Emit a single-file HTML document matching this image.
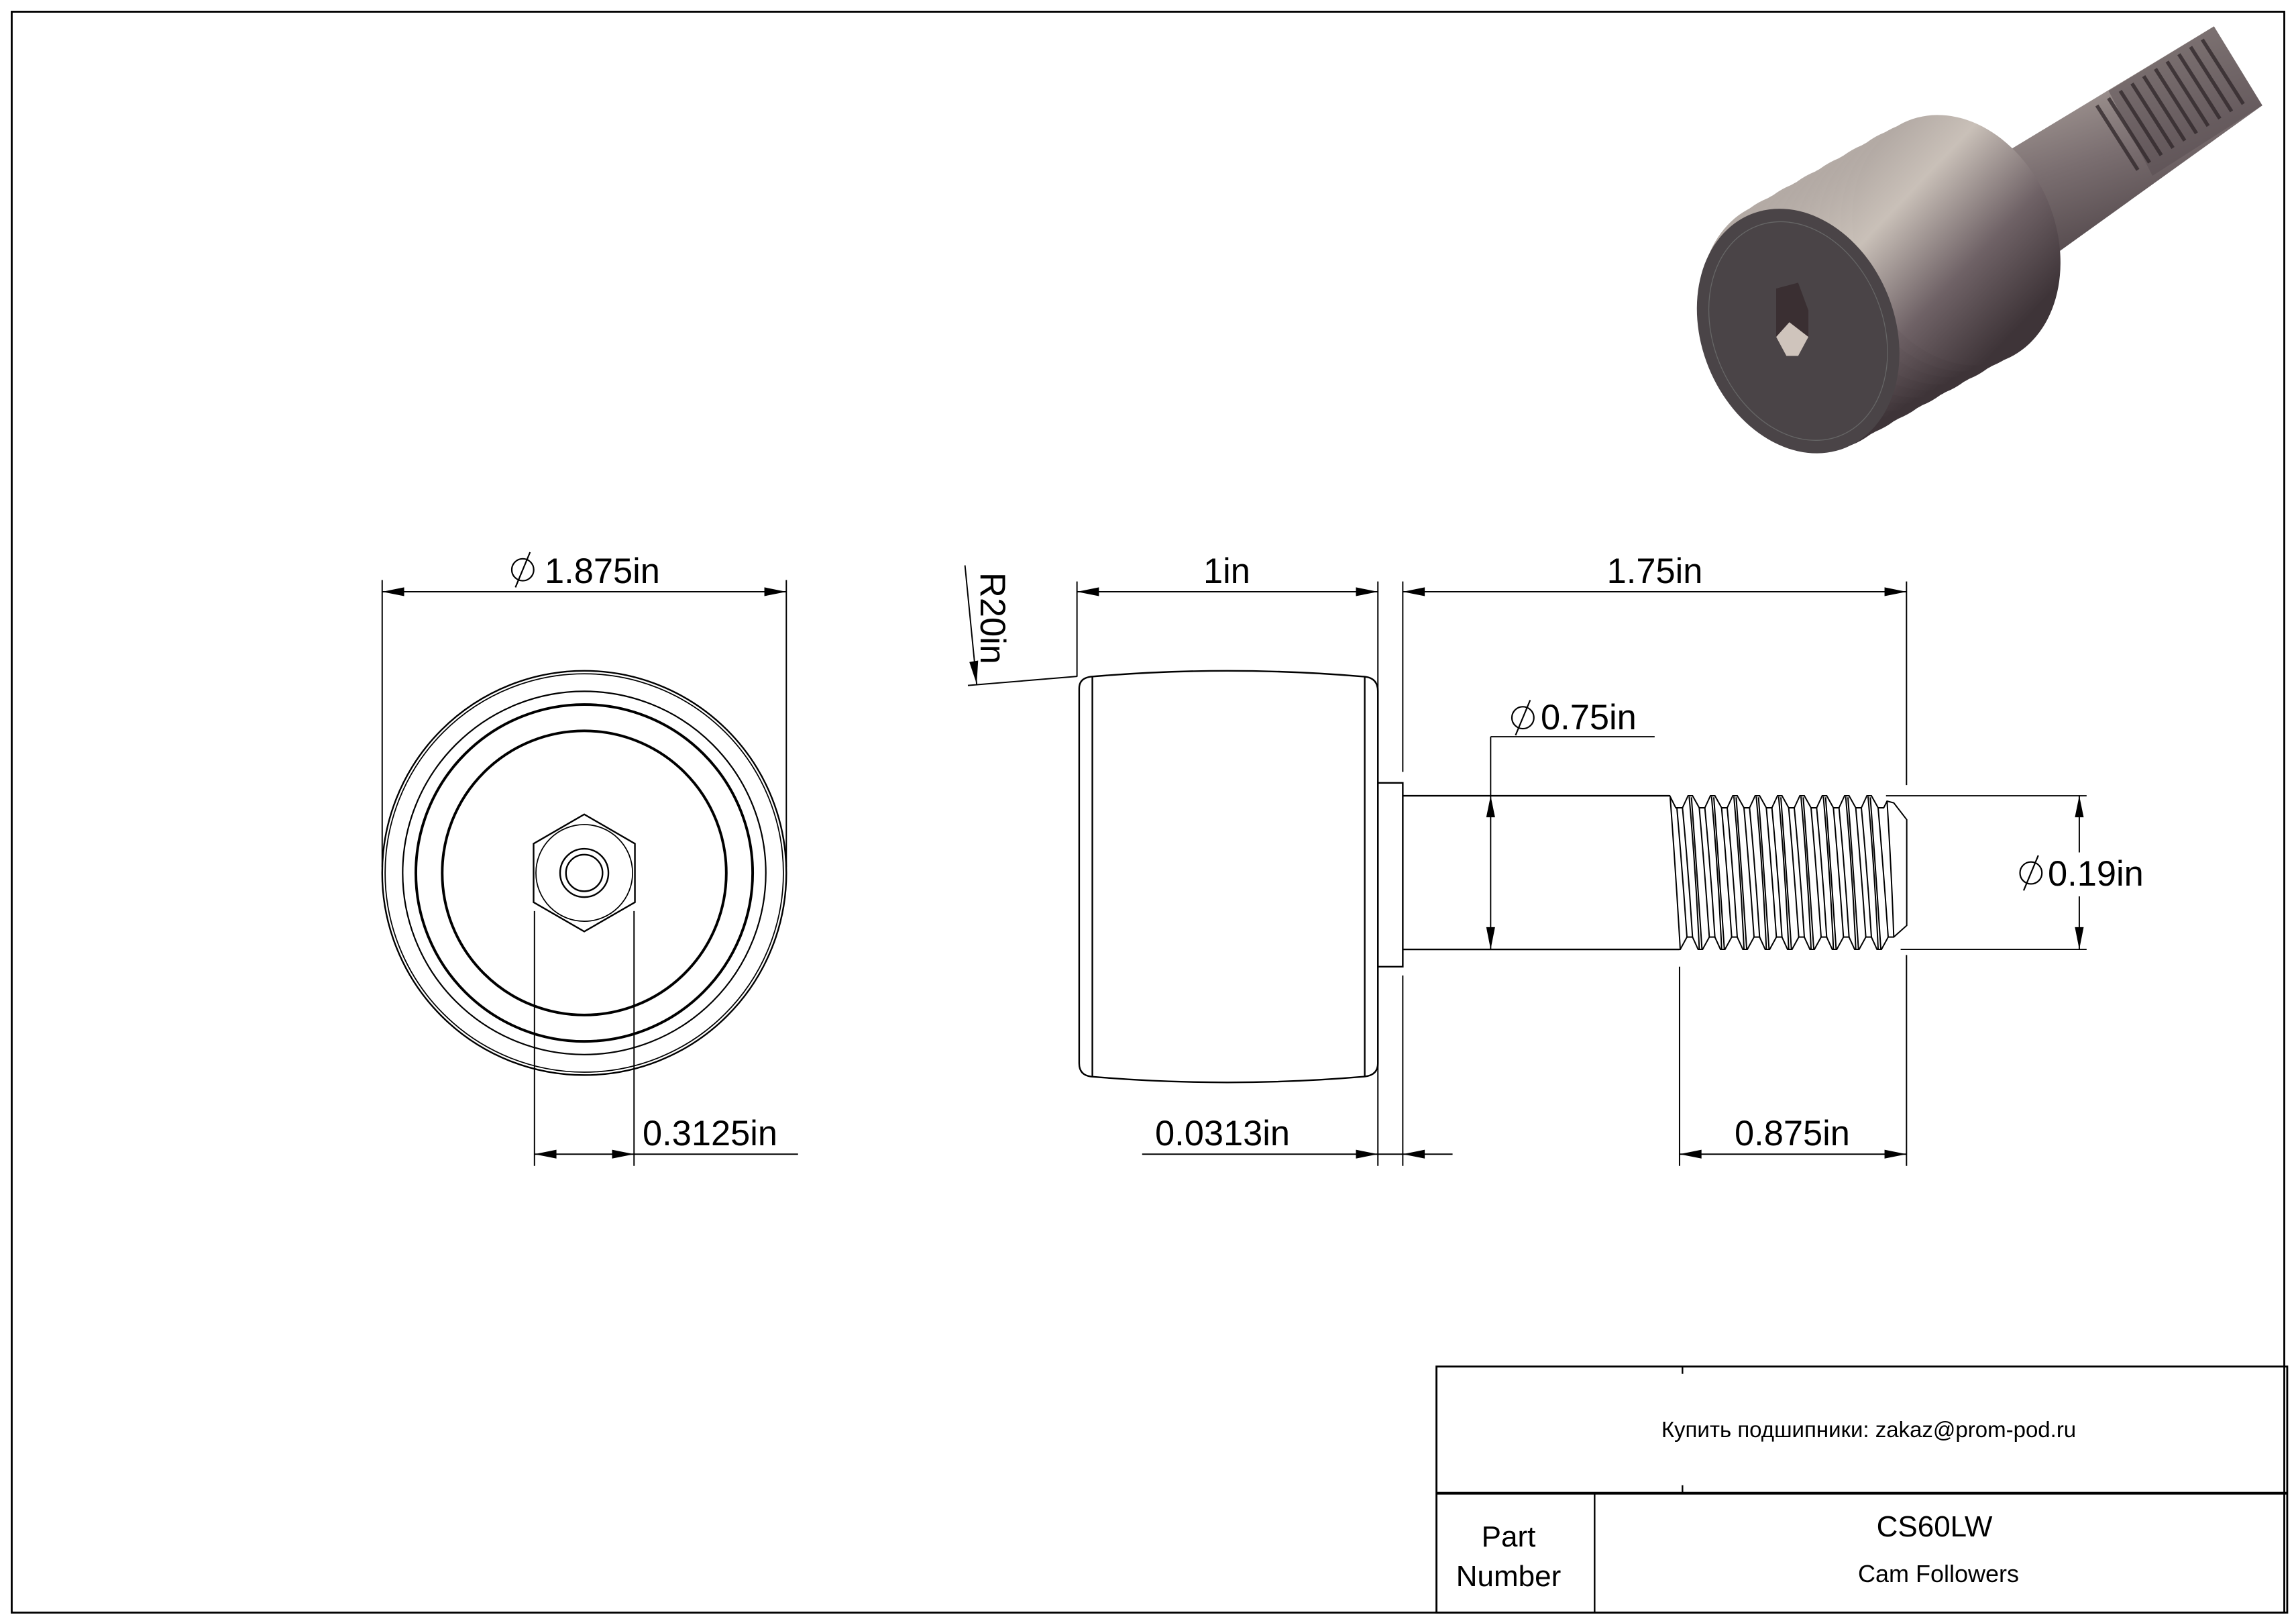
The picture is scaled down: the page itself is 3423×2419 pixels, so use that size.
<!DOCTYPE html>
<html><head><meta charset="utf-8"><style>
html,body{margin:0;padding:0;background:#fff}
svg{display:block}
text{font-family:"Liberation Sans","Noto Sans CJK SC",sans-serif;fill:#000}
</style></head><body>
<svg width="3423" height="2419" viewBox="0 0 3423 2419" xmlns="http://www.w3.org/2000/svg">
<defs>
<linearGradient id="body" x1="0" y1="0" x2="0.35" y2="1">
<stop offset="0" stop-color="#a59c98"/><stop offset="0.35" stop-color="#c9c0b8"/><stop offset="0.7" stop-color="#6f6266"/><stop offset="1" stop-color="#3e3438"/>
</linearGradient>
<linearGradient id="shaft" x1="0.3" y1="0" x2="0.7" y2="1">
<stop offset="0" stop-color="#c0b6ae"/><stop offset="0.5" stop-color="#7a6e70"/><stop offset="1" stop-color="#3c3236"/>
</linearGradient>
</defs>
<g transform="scale(2.18304)" fill="none" stroke="#000" stroke-width="1.1">
<rect x="8" y="8" width="1552" height="1093" stroke-width="1.3"/>
<rect x="981" y="933" width="581" height="168" stroke-width="1.3"/>
<line x1="981" y1="1019.5" x2="1562" y2="1019.5" stroke-width="1.8"/>
<line x1="1089" y1="1019" x2="1089" y2="1101"/>
<line x1="1149" y1="933" x2="1149" y2="938"/>
<line x1="1149" y1="1014" x2="1149" y2="1019"/>

<!-- 3D render -->
<g stroke="none">
<polygon points="1335,125 1512,18 1545,72 1378,192" fill="url(#shaft)"/>
<polygon points="1440,62 1512,18 1545,72 1470,120" fill="#5a4e52" opacity="0.55"/>
<g stroke="#2e2528" stroke-width="2.5" opacity="0.75">
<line x1="1432" y1="72" x2="1460" y2="116"/>
<line x1="1440" y1="67" x2="1468" y2="111"/>
<line x1="1448" y1="62" x2="1476" y2="106"/>
<line x1="1456" y1="57" x2="1484" y2="101"/>
<line x1="1464" y1="52" x2="1492" y2="96"/>
<line x1="1472" y1="47" x2="1500" y2="91"/>
<line x1="1480" y1="42" x2="1508" y2="86"/>
<line x1="1488" y1="37" x2="1516" y2="81"/>
<line x1="1496" y1="32" x2="1524" y2="76"/>
<line x1="1504" y1="27" x2="1532" y2="71"/>
</g>
<g fill="url(#body)">
<ellipse cx="1232" cy="222" rx="68" ry="88" transform="rotate(-22 1232 222)"/>
<ellipse cx="1240" cy="217" rx="68" ry="88" transform="rotate(-22 1240 217)"/>
<ellipse cx="1248" cy="213" rx="68" ry="88" transform="rotate(-22 1248 213)"/>
<ellipse cx="1256" cy="208" rx="68" ry="88" transform="rotate(-22 1256 208)"/>
<ellipse cx="1264" cy="204" rx="68" ry="88" transform="rotate(-22 1264 204)"/>
<ellipse cx="1272" cy="199" rx="68" ry="88" transform="rotate(-22 1272 199)"/>
<ellipse cx="1280" cy="195" rx="68" ry="88" transform="rotate(-22 1280 195)"/>
<ellipse cx="1288" cy="190" rx="68" ry="88" transform="rotate(-22 1288 190)"/>
<ellipse cx="1296" cy="186" rx="68" ry="88" transform="rotate(-22 1296 186)"/>
<ellipse cx="1304" cy="181" rx="68" ry="88" transform="rotate(-22 1304 181)"/>
<ellipse cx="1312" cy="177" rx="68" ry="88" transform="rotate(-22 1312 177)"/>
<ellipse cx="1320" cy="172" rx="68" ry="88" transform="rotate(-22 1320 172)"/>
<ellipse cx="1328" cy="168" rx="68" ry="88" transform="rotate(-22 1328 168)"/>
<ellipse cx="1336" cy="164" rx="68" ry="88" transform="rotate(-22 1336 164)"/>
</g>
<ellipse cx="1228" cy="226" rx="66" ry="86" transform="rotate(-22 1228 226)" fill="#4a4447"/>
<ellipse cx="1228" cy="226" rx="58" ry="77" transform="rotate(-22 1228 226)" fill="none" stroke="#666" stroke-width="0.6"/>
<polygon points="1213,197 1228,193 1235,212 1235,230 1220,243 1213,230" fill="#3a2f32"/>
<polygon points="1213,230 1222,220 1235,230 1228,243 1220,243" fill="#cfc4bc"/>
</g>

<!-- front view -->
<circle cx="399" cy="596" r="138"/>
<circle cx="399" cy="596" r="136" stroke-width="0.8"/>
<circle cx="399" cy="596" r="124" stroke-width="1"/>
<circle cx="399" cy="596" r="115" stroke-width="1.8"/>
<circle cx="399" cy="596" r="97" stroke-width="1.8"/>
<polygon points="399,556 433.6,576 433.6,616 399,636 364.4,616 364.4,576"/>
<circle cx="399" cy="596" r="33" stroke-width="0.8"/>
<circle cx="399" cy="596" r="16.5" stroke-width="1.1"/>
<circle cx="399" cy="596" r="12.5" stroke-width="1.1"/>

<!-- side view roller -->
<path d="M745,462 Q838,454 932,462 Q941,463 941,472 L941,726 Q941,734 932,735 Q838,743 745,735 Q737,734 737,726 L737,470 Q737,463 745,462 Z"/>
<line x1="746" y1="462" x2="746" y2="735"/>
<line x1="932" y1="462" x2="932" y2="735"/>
<rect x="941" y="534.5" width="17" height="125.5"/>
<line x1="958" y1="543.3" x2="1140" y2="543.3"/>
<line x1="958" y1="648.2" x2="1147" y2="648.2"/>

<g stroke-width="0.9">
<line x1="261" y1="396" x2="261" y2="592"/>
<line x1="537" y1="396" x2="537" y2="592"/>
<line x1="261" y1="404" x2="537" y2="404"/>
<line x1="365" y1="622" x2="365" y2="796"/>
<line x1="433" y1="622" x2="433" y2="796"/>
<line x1="365" y1="788" x2="545" y2="788"/>
<line x1="735.5" y1="397" x2="735.5" y2="462"/>
<line x1="941" y1="397" x2="941" y2="796"/>
<line x1="735.5" y1="404" x2="941" y2="404"/>
<line x1="958" y1="397" x2="958" y2="527"/>
<line x1="958" y1="666" x2="958" y2="796"/>
<line x1="1302" y1="397" x2="1302" y2="536"/>
<line x1="1302" y1="652" x2="1302" y2="796"/>
<line x1="958" y1="404" x2="1302" y2="404"/>
<line x1="1018" y1="503" x2="1018" y2="648"/>
<line x1="1018" y1="503" x2="1130" y2="503"/>
<line x1="1288" y1="543.3" x2="1425" y2="543.3"/>
<line x1="1298" y1="648.2" x2="1425" y2="648.2"/>
<line x1="1420" y1="543" x2="1420" y2="582"/>
<line x1="1420" y1="612" x2="1420" y2="648"/>
<line x1="780" y1="788" x2="992" y2="788"/>
<line x1="1147" y1="660" x2="1147" y2="796"/>
<line x1="1147" y1="788" x2="1302" y2="788"/>
<line x1="659" y1="386" x2="667" y2="467"/>
<line x1="661" y1="468" x2="735.5" y2="461.8"/>
</g>
<g fill="#000" stroke="none">
<polygon points="261,404 276,401 276,407"/>
<polygon points="537,404 522,401 522,407"/>
<polygon points="365,788 380,785 380,791"/>
<polygon points="433,788 418,785 418,791"/>
<polygon points="735.5,404 750.5,401 750.5,407"/>
<polygon points="941,404 926,401 926,407"/>
<polygon points="958,404 973,401 973,407"/>
<polygon points="1302,404 1287,401 1287,407"/>
<polygon points="1018,543.3 1015,558 1021,558"/>
<polygon points="1018,648.2 1015,633 1021,633"/>
<polygon points="1420,543.3 1417,558 1423,558"/>
<polygon points="1420,648.2 1417,633 1423,633"/>
<polygon points="941,788 926,785 926,791"/>
<polygon points="958,788 973,785 973,791"/>
<polygon points="1147,788 1162,785 1162,791"/>
<polygon points="1302,788 1287,785 1287,791"/>
<polygon points="667,467 662,452 668,451"/>
</g>
<g stroke-width="1">
<circle cx="357" cy="389" r="7.5"/><line x1="352" y1="401" x2="362" y2="377"/>
<circle cx="1040" cy="490" r="7.5"/><line x1="1035" y1="502" x2="1045" y2="478"/>
<circle cx="1387" cy="596" r="7.5"/><line x1="1382" y1="608" x2="1392" y2="584"/>
</g>
</g>

<g transform="translate(2480,1150) scale(0.33333)" fill="none" stroke="#000" stroke-width="6">
<path d="M0,108 L28,108 L55,162 L85,162 L110,108 L130,108 L160,162 L185,162 L210,108 L230,108 L260,162 L285,162 L310,108 L330,108 L360,162 L385,162 L410,108 L430,108 L460,162 L485,162 L510,108 L530,108 L560,162 L585,162 L610,108 L630,108 L660,162 L685,162 L710,108 L730,108 L760,162 L785,162 L810,108 L830,108 L860,162 L885,162 L910,108 L930,108 L960,162 L985,162 L1000,132 L1030,140 L1088,215 L1088,688 L1030,740 L1005,740 L975,795 L955,795 L930,740 L905,740 L875,795 L855,795 L830,740 L805,740 L775,795 L755,795 L730,740 L705,740 L675,795 L655,795 L630,740 L605,740 L575,795 L555,795 L530,740 L505,740 L475,795 L455,795 L430,740 L405,740 L375,795 L355,795 L330,740 L305,740 L275,795 L255,795 L230,740 L205,740 L175,795 L155,795 L130,740 L105,740 L75,795 L0,795"/>
<path d="M30,115 Q55,450 75,795 M60,162 Q85,450 105,740 M115,112 Q145,450 160,792 M125,115 Q150,450 172,792 M160,162 Q185,450 205,740 M85,162 Q112,450 130,740
M215,112 Q245,450 260,792 M225,115 Q250,450 272,792 M260,162 Q285,450 305,740 M185,162 Q212,450 230,740
M315,112 Q345,450 360,792 M325,115 Q350,450 372,792 M360,162 Q385,450 405,740 M285,162 Q312,450 330,740
M415,112 Q445,450 460,792 M425,115 Q450,450 472,792 M460,162 Q485,450 505,740 M385,162 Q412,450 430,740
M515,112 Q545,450 560,792 M525,115 Q550,450 572,792 M560,162 Q585,450 605,740 M485,162 Q512,450 530,740
M615,112 Q645,450 660,792 M625,115 Q650,450 672,792 M660,162 Q685,450 705,740 M585,162 Q612,450 630,740
M715,112 Q745,450 760,792 M725,115 Q750,450 772,792 M760,162 Q785,450 805,740 M685,162 Q712,450 730,740
M815,112 Q845,450 860,792 M825,115 Q850,450 872,792 M860,162 Q885,450 905,740 M785,162 Q812,450 830,740
M915,112 Q945,450 960,792 M925,115 Q950,450 972,792 M960,162 Q985,450 1005,740 M885,162 Q912,450 930,740
M1000,132 Q1020,450 1030,740"/>
</g>

<g font-size="52.4">
<text x="812" y="869">1.875in</text>
<text x="958" y="1707">0.3125in</text>
<text x="1829" y="869" text-anchor="middle">1in</text>
<text x="2467" y="869" text-anchor="middle">1.75in</text>
<text x="2297" y="1087">0.75in</text>
<text x="3053" y="1320">0.19in</text>
<text x="1722" y="1707">0.0313in</text>
<text x="2672" y="1707" text-anchor="middle">0.875in</text>
<text transform="translate(1462,853) rotate(90)">R20in</text>
</g>
<text x="2786" y="2142" font-size="33" text-anchor="middle">Купить подшипники: zakaz@prom-pod.ru</text>
<text x="2249" y="2305" font-size="44" text-anchor="middle">Part</text>
<text x="2249" y="2364" font-size="44" text-anchor="middle">Number</text>
<text x="2884" y="2290" font-size="44" text-anchor="middle">CS60LW</text>
<text x="2890" y="2358" font-size="36" text-anchor="middle">Cam Followers</text>
</svg>
</body></html>
